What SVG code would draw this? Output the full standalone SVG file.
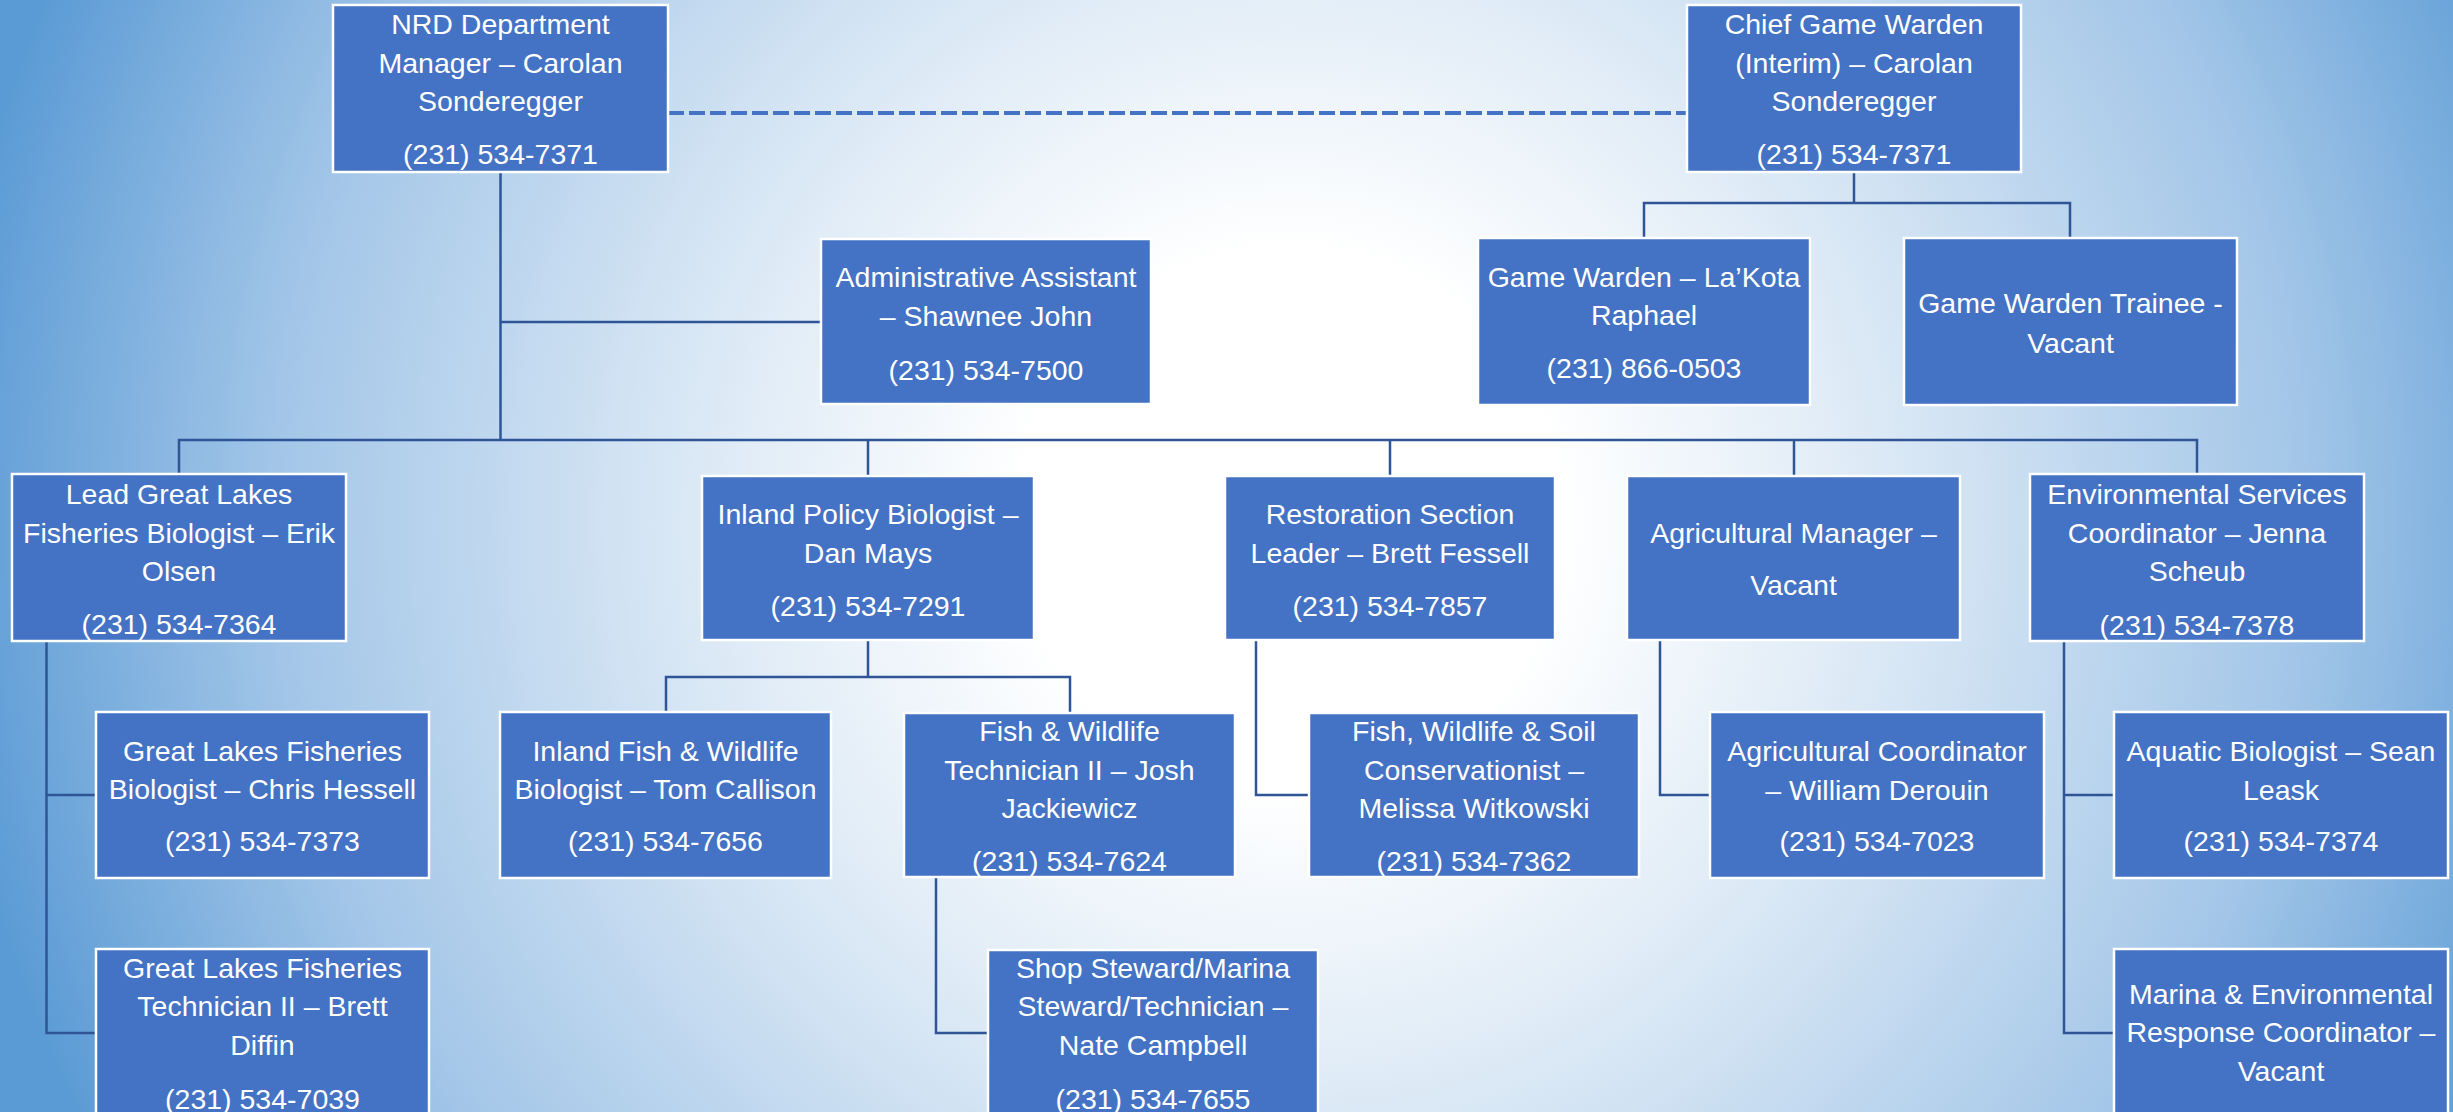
<svg xmlns="http://www.w3.org/2000/svg" width="2453" height="1112" viewBox="0 0 2453 1112">
<defs>
<radialGradient id="bg" gradientUnits="userSpaceOnUse" cx="1290" cy="520" r="1350">
<stop offset="0" stop-color="#ffffff"/>
<stop offset="0.2" stop-color="#ffffff"/>
<stop offset="0.45" stop-color="#dae8f5"/>
<stop offset="0.75" stop-color="#a3c6e8"/>
<stop offset="1" stop-color="#5b9bd5"/>
</radialGradient>
<style>
.box{fill:#4472C4;stroke:#ffffff;stroke-width:2.5}
.t{font-family:"Liberation Sans",Arial,sans-serif;font-size:28.5px;fill:#ffffff;text-anchor:middle}
.ln{fill:none;stroke:#2F5597;stroke-width:2.5}
.dash{fill:none;stroke:#4472C4;stroke-width:4;stroke-dasharray:16 5}
</style>
</defs>
<rect x="0" y="0" width="2453" height="1112" fill="url(#bg)"/>
<g id="connectors">
<path class="dash" d="M668 113 H1687"/>
<path class="ln" d="M500.5 172 V440"/>
<path class="ln" d="M500.5 322 H821"/>
<path class="ln" d="M179 474 V440 H2197 V474"/>
<path class="ln" d="M868 440 V476 M1390 440 V476 M1794 440 V476"/>
<path class="ln" d="M1854 172 V203 M1644 238 V203 H2070 V238"/>
<path class="ln" d="M868 640 V677 M666 712 V677 H1070 V713"/>
<path class="ln" d="M46.5 641 V1033 H96 M46.5 795 H96"/>
<path class="ln" d="M936 877 V1033 H988"/>
<path class="ln" d="M1256 640 V795 H1309"/>
<path class="ln" d="M1660 640 V795 H1710"/>
<path class="ln" d="M2064 641 V1033 H2114 M2064 795 H2114"/>
</g>
<g id="nrd"><rect class="box" x="333" y="5" width="335" height="167"/>
<text class="t" x="500.5" y="34">NRD Department</text><text class="t" x="500.5" y="73">Manager – Carolan</text><text class="t" x="500.5" y="111">Sonderegger</text><text class="t" x="500.5" y="164">(231) 534-7371</text></g>
<g id="chief"><rect class="box" x="1687" y="5" width="334" height="167"/>
<text class="t" x="1854" y="34">Chief Game Warden</text><text class="t" x="1854" y="73">(Interim) – Carolan</text><text class="t" x="1854" y="111">Sonderegger</text><text class="t" x="1854" y="164">(231) 534-7371</text></g>
<g id="admin"><rect class="box" x="821" y="239" width="330" height="165"/>
<text class="t" x="986" y="287">Administrative Assistant</text><text class="t" x="986" y="326">– Shawnee John</text><text class="t" x="986" y="380">(231) 534-7500</text></g>
<g id="gamewarden"><rect class="box" x="1478" y="238" width="332" height="167"/>
<text class="t" x="1644" y="287">Game Warden – La’Kota</text><text class="t" x="1644" y="325">Raphael</text><text class="t" x="1644" y="378">(231) 866-0503</text></g>
<g id="trainee"><rect class="box" x="1904" y="238" width="333" height="167"/>
<text class="t" x="2070.5" y="313">Game Warden Trainee -</text><text class="t" x="2070.5" y="353">Vacant</text></g>
<g id="lead"><rect class="box" x="12" y="474" width="334" height="167"/>
<text class="t" x="179" y="504">Lead Great Lakes</text><text class="t" x="179" y="543">Fisheries Biologist – Erik</text><text class="t" x="179" y="581">Olsen</text><text class="t" x="179" y="634">(231) 534-7364</text></g>
<g id="inland"><rect class="box" x="702" y="476" width="332" height="164"/>
<text class="t" x="868" y="524">Inland Policy Biologist –</text><text class="t" x="868" y="563">Dan Mays</text><text class="t" x="868" y="616">(231) 534-7291</text></g>
<g id="restoration"><rect class="box" x="1225" y="476" width="330" height="164"/>
<text class="t" x="1390" y="524">Restoration Section</text><text class="t" x="1390" y="563">Leader – Brett Fessell</text><text class="t" x="1390" y="616">(231) 534-7857</text></g>
<g id="agmanager"><rect class="box" x="1627" y="476" width="333" height="164"/>
<text class="t" x="1793.5" y="543">Agricultural Manager –</text><text class="t" x="1793.5" y="595">Vacant</text></g>
<g id="envservices"><rect class="box" x="2030" y="474" width="334" height="167"/>
<text class="t" x="2197" y="504">Environmental Services</text><text class="t" x="2197" y="543">Coordinator – Jenna</text><text class="t" x="2197" y="581">Scheub</text><text class="t" x="2197" y="635">(231) 534-7378</text></g>
<g id="hessell"><rect class="box" x="96" y="712" width="333" height="166"/>
<text class="t" x="262.5" y="761">Great Lakes Fisheries</text><text class="t" x="262.5" y="799">Biologist – Chris Hessell</text><text class="t" x="262.5" y="851">(231) 534-7373</text></g>
<g id="callison"><rect class="box" x="500" y="712" width="331" height="166"/>
<text class="t" x="665.5" y="761">Inland Fish &amp; Wildlife</text><text class="t" x="665.5" y="799">Biologist – Tom Callison</text><text class="t" x="665.5" y="851">(231) 534-7656</text></g>
<g id="josh"><rect class="box" x="904" y="713" width="331" height="164"/>
<text class="t" x="1069.5" y="741">Fish &amp; Wildlife</text><text class="t" x="1069.5" y="780">Technician II – Josh</text><text class="t" x="1069.5" y="818">Jackiewicz</text><text class="t" x="1069.5" y="871">(231) 534-7624</text></g>
<g id="fws"><rect class="box" x="1309" y="713" width="330" height="164"/>
<text class="t" x="1474" y="741">Fish, Wildlife &amp; Soil</text><text class="t" x="1474" y="780">Conservationist –</text><text class="t" x="1474" y="818">Melissa Witkowski</text><text class="t" x="1474" y="871">(231) 534-7362</text></g>
<g id="agcoordinator"><rect class="box" x="1710" y="712" width="334" height="166"/>
<text class="t" x="1877" y="761">Agricultural Coordinator</text><text class="t" x="1877" y="800">– William Derouin</text><text class="t" x="1877" y="851">(231) 534-7023</text></g>
<g id="aquatic"><rect class="box" x="2114" y="712" width="334" height="166"/>
<text class="t" x="2281" y="761">Aquatic Biologist – Sean</text><text class="t" x="2281" y="800">Leask</text><text class="t" x="2281" y="851">(231) 534-7374</text></g>
<g id="diffin"><rect class="box" x="96" y="949" width="333" height="180"/>
<text class="t" x="262.5" y="978">Great Lakes Fisheries</text><text class="t" x="262.5" y="1016">Technician II – Brett</text><text class="t" x="262.5" y="1055">Diffin</text><text class="t" x="262.5" y="1109">(231) 534-7039</text></g>
<g id="shop"><rect class="box" x="988" y="950" width="330" height="180"/>
<text class="t" x="1153" y="978">Shop Steward/Marina</text><text class="t" x="1153" y="1016">Steward/Technician –</text><text class="t" x="1153" y="1055">Nate Campbell</text><text class="t" x="1153" y="1109">(231) 534-7655</text></g>
<g id="marina"><rect class="box" x="2114" y="949" width="334" height="180"/>
<text class="t" x="2281" y="1004">Marina &amp; Environmental</text><text class="t" x="2281" y="1042">Response Coordinator –</text><text class="t" x="2281" y="1081">Vacant</text></g>
</svg>
